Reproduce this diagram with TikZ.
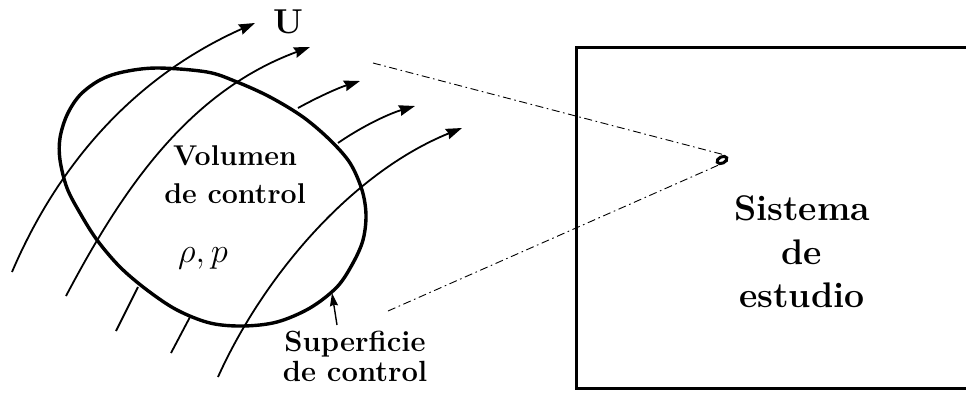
\documentclass[tikz,border=0pt]{standalone}
\usetikzlibrary{arrows.meta, shapes.geometric}

\begin{document}
\begin{tikzpicture}[
  x=0.5pt, y=-0.5pt,
  flujo/.style={line width=0.9pt, -{Stealth[length=8pt, width=5.4pt, inset=0.8pt]}},
  tramo/.style={line width=0.9pt},
  borde/.style={line width=1.7pt},
  proyec/.style={line width=0.45pt, dash pattern=on 4pt off 1.8pt on 0.8pt off 1.8pt},
  etiq/.style={font=\fontsize{14.3}{19}\selectfont\bfseries, align=center, inner sep=0pt},
]
\clip (0,0) rectangle (966,392);

% Volumen de control
\draw[borde] plot[smooth cycle, tension=0.55] coordinates {
  (157,68) (207,72) (237,82) (270,97) (303,117) (330,140) (350,163)
  (362,190) (366,215) (363,240) (353,263) (337,287) (310,308) (277,322)
  (243,326) (210,323) (177,310) (147,290) (120,267) (97,240) (80,213)
  (67,188) (60,160) (60,138) (67,115) (80,95) (100,80) (123,72)};

% Lineas de corriente
\draw[flujo] (12,272) .. controls (59,162) and (136,76) .. (255,23);
\draw[flujo] (66,296) .. controls (122,190) and (188,92) .. (310,47);
\draw[tramo] (116,331) -- (138,287);
\draw[flujo] (298,108) .. controls (318,97) and (338,88) .. (360,81);
\draw[tramo] (171,353) -- (190,317);
\draw[flujo] (338,143) .. controls (361,127) and (388,114) .. (415,106);
\draw[flujo] (218,377) .. controls (263,277) and (351,173) .. (462,128);

% Textos del volumen
\node[etiq] (vol) at (235,175) {Volumen\\de control};
\node[font=\fontsize{17.5}{21}\selectfont, inner sep=0pt] (prop) at (203,258) {$\rho,p$};
\node[font=\fontsize{16}{19}\selectfont, inner sep=0pt] (vel) at (288,22) {$\mathbf{U}$};
\node[etiq, font=\fontsize{14.6}{15}\selectfont\bfseries] (sup) at (355,356) {Superficie\\de control};
\coordinate (supborde) at (332,293);
\coordinate (supcola) at (337,325);
\draw[line width=0.7pt, -{Stealth[length=6.5pt, width=4pt, inset=0.6pt]}] (supcola) -- (supborde);

% Sistema de estudio
\draw[line width=1.5pt] (576,47) rectangle (1028,388);
\node[etiq, font=\fontsize{17.8}{21.75}\selectfont\bfseries] (sis) at (802,252) {Sistema\\de\\estudio};
\node[draw, ellipse, line width=1.5pt, minimum width=5.2pt, minimum height=3.2pt,
  inner sep=0pt, rotate=25] (punto) at (722,160) {};

% Proyeccion
\coordinate (proyA) at (373,63);
\coordinate (proyB) at (388,311);
\draw[proyec] (proyA) -- (punto.north east);
\draw[proyec] (proyB) -- (punto.south east);
\end{tikzpicture}
\end{document}
